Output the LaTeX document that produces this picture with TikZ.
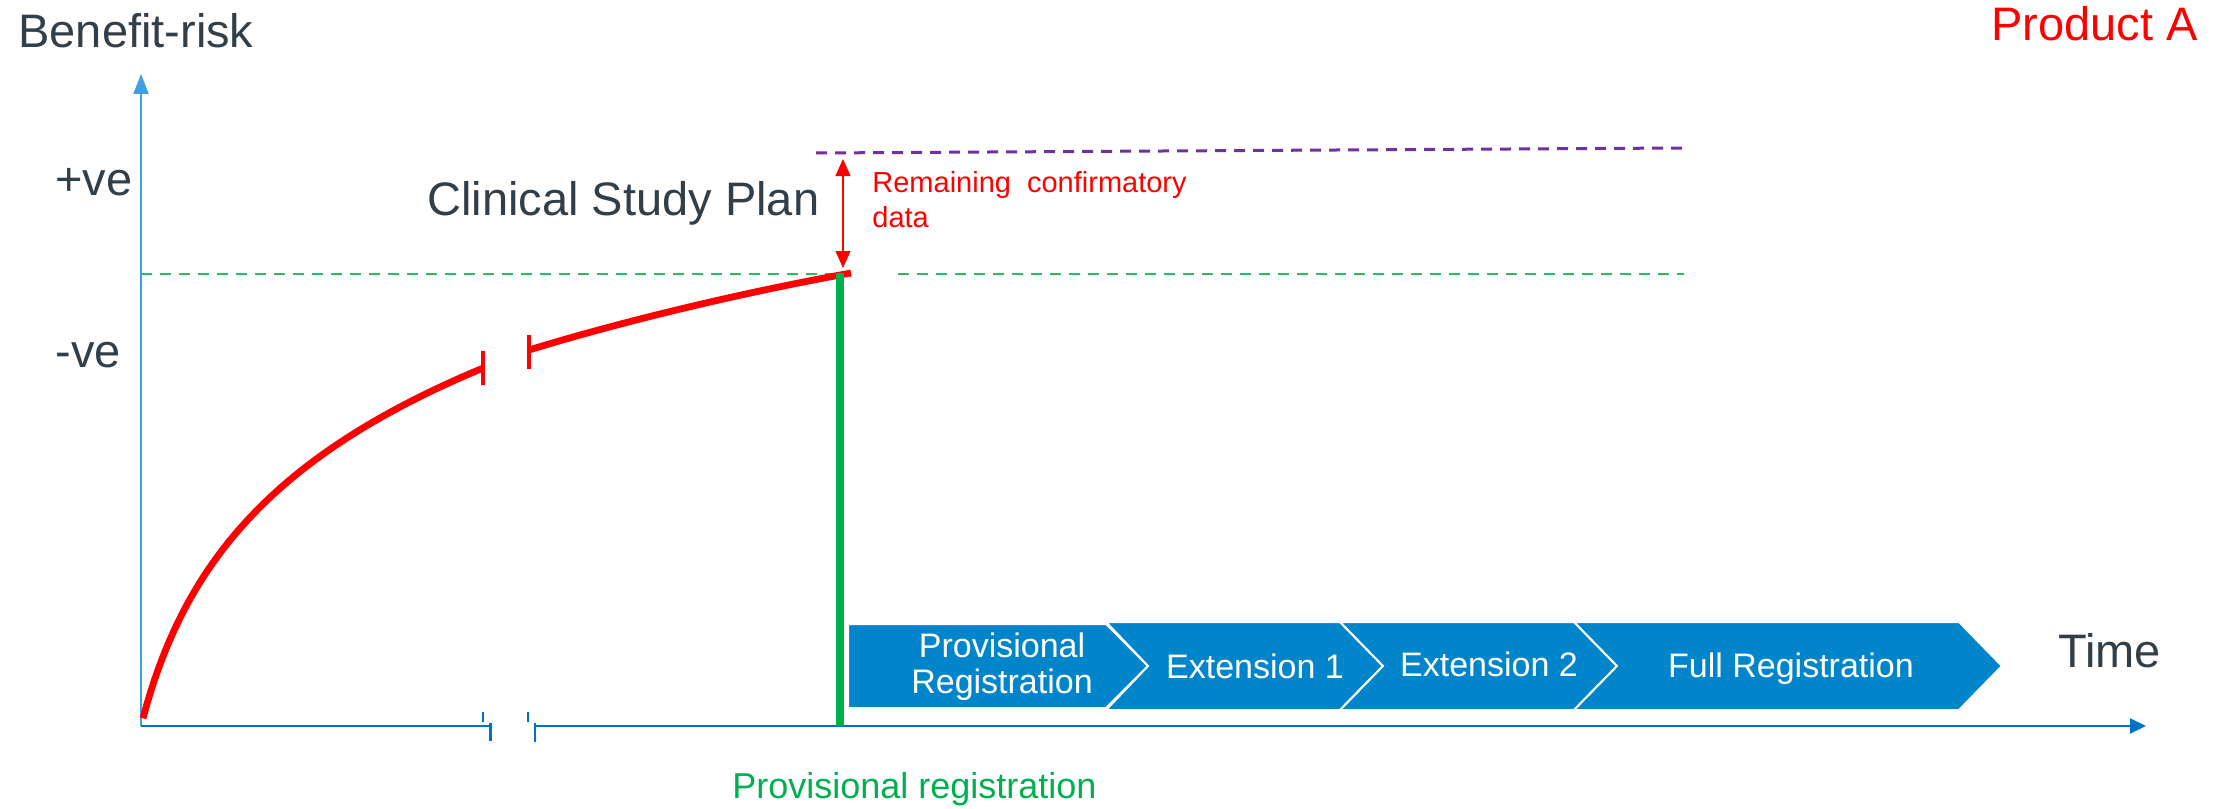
\documentclass[tikz,border=0pt]{standalone}
\usepackage{fontspec}
\setmainfont{Liberation Sans}
\usetikzlibrary{arrows.meta}
\definecolor{darktext}{RGB}{51,63,72}
\definecolor{chevblue}{RGB}{0,133,202}
\definecolor{xaxisblue}{RGB}{0,114,198}
\definecolor{yaxisblue}{RGB}{60,160,225}
\definecolor{regreen}{RGB}{0,176,80}
\definecolor{dashgreen}{RGB}{40,190,100}
\definecolor{confpurple}{RGB}{112,48,160}
\definecolor{pred}{RGB}{255,0,0}
\tikzset{
  bigtext/.style={inner sep=0pt, text=darktext, font=\fontsize{23.5}{28}\selectfont},
  chev/.style={fill=chevblue, draw=white, line width=1pt, line join=miter},
  chevtext/.style={inner sep=0pt, text=white, font=\fontsize{17}{18}\selectfont},
  redcurve/.style={draw=pred, line width=3.4pt, line cap=butt},
  redbar/.style={draw=pred, line width=1.6pt},
  xaxis/.style={draw=xaxisblue, line width=1pt},
  yaxis/.style={draw=yaxisblue, line width=1pt},
  greendash/.style={draw=dashgreen, line width=1.4pt, dash pattern=on 5.5pt off 4pt},
  purpledash/.style={draw=confpurple, line width=1.5pt, dash pattern=on 5.5pt off 4pt},
}
\begin{document}
\begin{tikzpicture}[x=0.5pt,y=-0.5pt]
\useasboundingbox (0,0) rectangle (2215,808);

% coordinates
\coordinate (O) at (141,726);
\coordinate (ytip) at (141,74);
\coordinate (xbreakL) at (490,726);
\coordinate (xbreakR) at (535,726);
\coordinate (xtip) at (2146,726);
\coordinate (gtop) at (840,273);
\coordinate (gbot) at (840,726);
\coordinate (arrtop) at (843,159);
\coordinate (arrbot) at (843,268);
\coordinate (c1s) at (483,368);
\coordinate (c2s) at (529,350);
\coordinate (c2e) at (851,273);

% chevrons
\fill[chev] (848,624) -- (1106,624) -- (1148,666) -- (1106,708) -- (848,708) -- cycle;
\fill[chev] (1106,622) -- (1340,622) -- (1383,666) -- (1340,710) -- (1106,710) -- (1148,666) -- cycle;
\fill[chev] (1340,622) -- (1574,622) -- (1617,666) -- (1574,710) -- (1340,710) -- (1383,666) -- cycle;
\fill[chev] (1574,622) -- (1959,622) -- (2002,666) -- (1959,710) -- (1574,710) -- (1617,666) -- cycle;
\node[chevtext, align=center] (c1) at (1002,667) {Provisional\\Registration};
\node[chevtext, anchor=base] (c2) at (1255,678) {Extension 1};
\node[chevtext, anchor=base] (c3) at (1489,676) {Extension 2};
\node[chevtext, anchor=base] (c4) at (1791,677) {Full Registration};

% axes
\draw[yaxis, -{Triangle[length=10pt,width=7.5pt]}] (O) -- (ytip);
\draw[xaxis] (O) -- (xbreakL);
\draw[xaxis, -{Triangle[length=8pt,width=7.5pt]}] (xbreakR) -- (xtip);
\draw[draw=xaxisblue, line width=1.5pt] (490,723) -- (490,741);
\draw[draw=xaxisblue, line width=1pt] (535,723) -- (535,742);
\draw[draw=xaxisblue, line width=0.8pt] (483,712) -- (483,722);
\draw[draw=xaxisblue, line width=0.8pt] (528,712) -- (528,722);

% dashed levels
\draw[greendash] (141,274) -- (843,274);
\draw[greendash] (898,274) -- (1684,274);
\draw[purpledash] (816,153) -- (1683,148);

% red curve
\draw[redcurve] plot[domain=2:342, samples=90, variable=\t] ({141+\t},{726-158.6*ln(1+\t/40)});
\draw[redbar] (483,351) -- (483,385);
\draw[redcurve] (c2s) .. controls (620,322) and (740,293) .. (c2e);
\draw[redbar] (529,335) -- (529,369);

% green provisional bar
\draw[draw=regreen, line width=4pt] (gtop) -- (gbot);

% red double arrow
\draw[draw=pred, line width=0.6pt, {Triangle[length=8.5pt,width=7.5pt]}-{Triangle[length=8.5pt,width=7.5pt]}] (arrtop) -- (arrbot);

% texts
\node[bigtext, anchor=base west] (br) at (18,48) {Benefit-risk};
\node[inner sep=0pt, text=pred, font=\fontsize{23.5}{28}\selectfont, anchor=base east] (prod) at (2198,41) {Product A};
\node[bigtext, anchor=base west] (pve) at (55,195) {+ve};
\node[bigtext, anchor=base west] (nve) at (55,367) {-ve};
\node[bigtext, anchor=base west] (csp) at (427,215) {Clinical Study Plan};
\node[bigtext, anchor=base west] (time) at (2058,667) {Time};
\node[inner sep=0pt, text=pred, font=\fontsize{14.5}{17.5}\selectfont, anchor=base west] (rem) at (872,192) {Remaining\ \ confirmatory};
\node[inner sep=0pt, text=pred, font=\fontsize{14.5}{17.5}\selectfont, anchor=base west] (remdata) at (872,227) {data};
\node[inner sep=0pt, text=regreen, font=\fontsize{18}{21}\selectfont, anchor=base west] (provreg) at (732,798) {Provisional registration};
\end{tikzpicture}
\end{document}
